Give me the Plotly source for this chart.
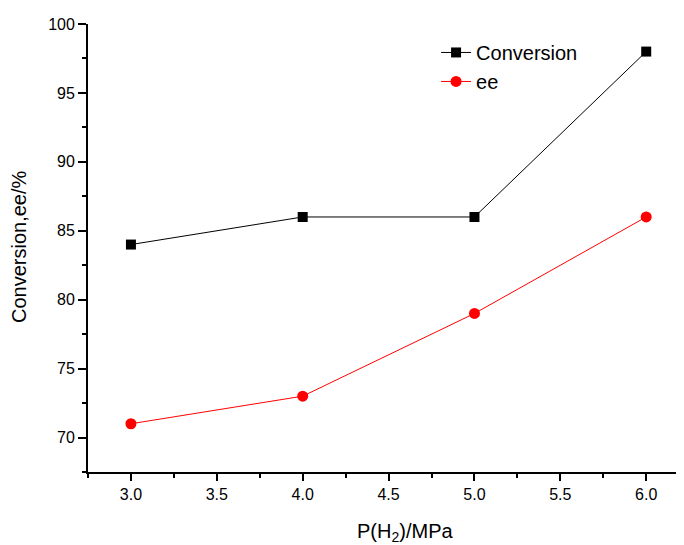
import plotly.graph_objects as go

pressure = [3.0, 4.0, 5.0, 6.0]
conversion = [84, 86, 86, 98]
ee = [71, 73, 79, 86]

x_ticks = [3.0, 3.5, 4.0, 4.5, 5.0, 5.5, 6.0]
y_ticks = [70, 75, 80, 85, 90, 95, 100]

fig = go.Figure()
fig.add_trace(go.Scatter(x=pressure, y=conversion, name="Conversion", mode="lines+markers",
                         line=dict(color="black", width=1),
                         marker=dict(symbol="square", size=10, color="black")))
fig.add_trace(go.Scatter(x=pressure, y=ee, name="ee", mode="lines+markers",
                         line=dict(color="red", width=1),
                         marker=dict(symbol="circle", size=11, color="red")))

font = "Liberation Sans, Arial, sans-serif"
W, H = 684, 545
OFF = 8  # page body margin
L, R, T, B = 80, 8, 16, 81
pw, ph = W - L - R, H - T - B


def px_x(sx):
    return (sx - OFF - L) / pw


def px_y(sy):
    return (H - (sy - OFF) - B) / ph


fig.update_layout(
    width=W, height=H,
    margin=dict(l=L, r=R, t=T, b=B, autoexpand=False),
    plot_bgcolor="white", paper_bgcolor="white",
    font=dict(family=font, size=16, color="black"),
    showlegend=True,
    legend=dict(x=0.584, y=0.98, xanchor="left", yanchor="top",
                bgcolor="rgba(0,0,0,0)", font=dict(family=font, size=20, color="black"),
                tracegroupgap=0),
    xaxis=dict(range=[2.75, 6.22], tickvals=x_ticks, automargin=False,
               ticktext=[f"{v:.1f}" for v in x_ticks],
               tickfont=dict(family=font, size=16, color="black"),
               showgrid=False, zeroline=False, showline=True, linecolor="black", linewidth=1.8,
               ticks="outside", ticklen=7, tickwidth=1.8, tickcolor="black",
               minor=dict(dtick=0.25, tick0=2.75, ticks="outside", ticklen=4, tickwidth=1.8, tickcolor="black")),
    yaxis=dict(range=[67.5, 100], tickvals=y_ticks, automargin=False,
               tickfont=dict(family=font, size=16, color="black"),
               showgrid=False, zeroline=False, showline=True, linecolor="black", linewidth=1.8,
               ticks="outside", ticklen=8, tickwidth=1.8, tickcolor="black",
               minor=dict(dtick=2.5, tick0=67.5, ticks="outside", ticklen=4, tickwidth=1.8, tickcolor="black")),
    annotations=[
        dict(text="P(H<sub>2</sub>)/MPa", x=px_x(405), y=px_y(532), xref="paper", yref="paper",
             xanchor="center", yanchor="middle",
             showarrow=False, font=dict(family=font, size=20, color="black")),
        dict(text="Conversion,ee/%", x=px_x(19), y=px_y(247), xref="paper", yref="paper",
             xanchor="center", yanchor="middle",
             textangle=-90, showarrow=False, font=dict(family=font, size=20, color="black")),
    ],
)
fig.write_html("out.html")
